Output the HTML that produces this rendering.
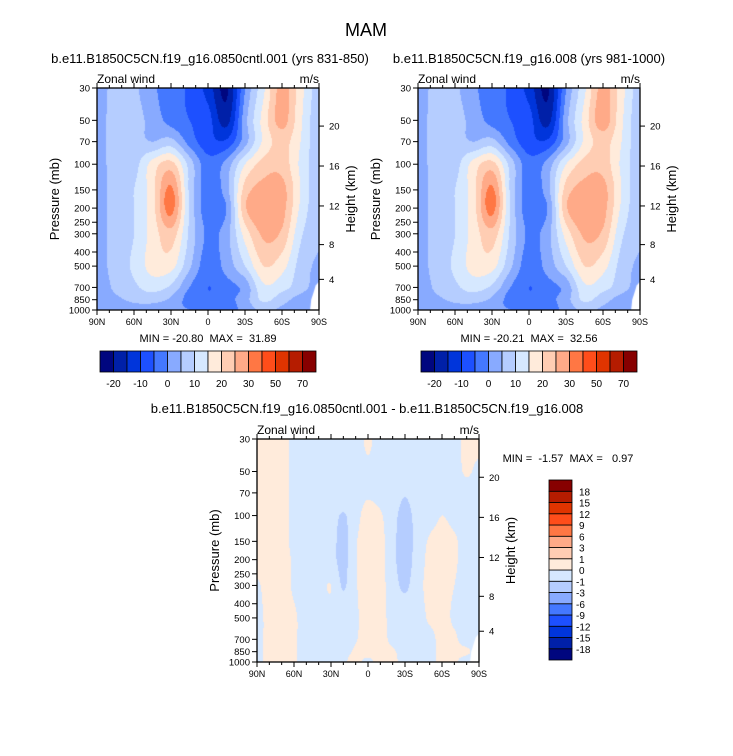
<!DOCTYPE html>
<html><head><meta charset="utf-8">
<style>
html,body{margin:0;padding:0;background:#fff;}
#wrap{position:relative;width:733px;height:756px;overflow:hidden;font-family:"Liberation Sans",sans-serif;}
canvas{position:absolute;}
svg{position:absolute;left:0;top:0;}
svg text{white-space:pre;}
</style></head>
<body>
<div id="wrap">
<canvas id="c1"></canvas>
<canvas id="c2"></canvas>
<canvas id="c3"></canvas>
<svg id="ov" width="733" height="756"></svg>
</div>
<script>
// ---- data ----
const lats13 = ["90N","75N","60N","45N","30N","15N","0","15S","30S","45S","60S","75S","90S"];
const levels = [30,50,70,100,150,200,300,500,700,850,1000];
const fieldA = [
 [2,7,6,1,-3,-6,-12,-21,0,14,27,17,7],
 [3,7,7,3,-2,-5,-8,-17,3,17,27,16,6],
 [3,7,7,5,7,-2,-8,-9,3,16,22,15,6],
 [3,7,8,17,22,8,-3,2,15,22,23,14,6],
 [3,7,10,18,31,9,-3,3,22,27,27,15,6],
 [3,7,10,18,32,9,-3,0,24,29,27,14,6],
 [3,7,10,17,23,9,-1,3,17,26,24,11,6],
 [3,7,11,17,17,6,-3,2,10,20,17,8,4],
 [2,6,9,12,9,0,-5,-2,2,14,12,7,3],
 [2,4,6,7,4,-2,-4,-2,3,11,7,3,2],
 [1,2,3,2,1,0,-2,-3,2,6,4,2,1]
];
const fieldB = [
 [2,7,6,1,-3,-6,-12,-21,0,14,27,17,7],
 [3,7,7,3,-2,-5,-8,-17,3,17,28,16,6],
 [3,7,7,5,7,-2,-8,-9,3,16,22,15,6],
 [3,7,8,17,22,8,-3,2,15,22,23,14,6],
 [3,7,10,18,31,9,-3,3,22,27,27,15,6],
 [3,7,10,18,32,9,-3,0,24,29,27,14,6],
 [3,7,10,17,23,9,-1,3,17,26,24,11,6],
 [3,7,11,17,17,6,-3,2,10,20,17,8,4],
 [2,6,9,12,9,0,-5,-2,2,14,12,7,3],
 [2,4,6,7,4,-2,-4,-2,3,11,7,3,2],
 [1,2,3,2,1,0,-2,-3,2,6,4,2,1]
];
const lats19 = ["90N","80N","70N","60N","50N","40N","30N","20N","10N","0","10S","20S","30S","40S","50S","60S","70S","80S","90S"];
const fieldD = [
 [.3,.3,.3,-.2,-.3,-.3,-.3,-.3,-.3,.1,-.3,-.3,-.3,-.3,-.3,-.3,-.3,.3,.3],
 [.3,.3,.3,-.2,-.3,-.3,-.3,-.3,-.3,-.1,-.3,-.3,-.3,-.3,-.3,-.3,-.3,.1,-.2],
 [.3,.3,.3,-.2,-.3,-.3,-.3,-.3,-.3,-.1,-.3,-.3,-.9,-.3,-.3,-.3,-.3,-.3,-.3],
 [.3,.3,.3,-.2,-.3,-.3,-.5,-1.1,-.3,.3,.1,-.6,-1.4,-.6,-.3,0,-.2,-.3,-.3],
 [.3,.3,.3,-.2,-.3,-.3,-.6,-1.3,-.1,.4,.3,-.7,-1.5,-.6,.1,.2,.1,-.3,-.3],
 [.3,.3,.3,-.1,-.3,-.3,-.6,-1.3,-.1,.4,.3,-.7,-1.5,-.5,.2,.2,.1,-.3,-.3],
 [-.1,.3,.3,-.1,-.3,-.3,0,-1.1,-.1,.4,.3,-.5,-1.2,-.3,.2,.2,0,-.3,-.3],
 [-.2,.2,.3,.1,-.3,-.3,-.3,-.3,-.1,.3,.3,-.3,-.3,-.3,.1,.2,-.1,-.3,-.3],
 [-.2,.2,.3,.1,-.3,-.3,-.3,-.3,-.05,.3,.3,-.2,-.3,-.3,-.2,.2,.1,-.3,-.3],
 [-.2,.2,.3,.1,-.3,-.3,-.3,-.2,.1,.3,.3,.1,-.3,-.3,-.2,.2,.1,.1,-.3],
 [-.2,.2,.3,.1,-.3,-.3,-.3,-.1,.2,-.2,.3,.2,-.3,-.3,-.2,.2,.1,-.3,-.3]
];
const boundsAB = [-20,-15,-10,-5,0,5,10,15,20,25,30,40,50,60,70];
const cbLabelsAB = ["-20","-10","0","10","20","30","50","70"];
const boundsD = [-18,-15,-12,-9,-6,-3,-1,0,1,3,6,9,12,15,18];
const pLabels = [30,50,70,100,150,200,250,300,400,500,700,850,1000];
const heightLabels = [4,8,12,16,20];
const xLabels = ["90N","60N","30N","0","30S","60S","90S"];
const colors = ["#00067f","#0020a8","#0035db","#1d50ff","#4478ff","#88aaff","#b5cdff","#d6e8ff",
 "#ffebdb","#ffcdb3","#ffaa88","#ff7744","#ff4d1a","#e03400","#b51c00","#870000"];

const NS="http://www.w3.org/2000/svg";
const ov=document.getElementById('ov');
function el(tag,attrs,parent){const e=document.createElementNS(NS,tag);for(const k in attrs)e.setAttribute(k,attrs[k]);(parent||ov).appendChild(e);return e;}
function txt(s,x,y,size,anchor,parent,rot){const t=el('text',{x:x,y:y,'font-size':size,'text-anchor':anchor||'middle','font-family':'Liberation Sans, sans-serif',fill:'#000'},parent);if(rot)t.setAttribute('transform','rotate(-90 '+x+' '+y+')');t.textContent=s;return t;}

const LN=Math.log(1000/30);
function yOfP(p,y0,h){return y0+h*Math.log(p/30)/LN;}
function pOfZ(zkm){const z=zkm*1000;if(z<=11000)return 1013.25*Math.pow(1-2.25577e-5*z,5.25588);return 226.32*Math.exp(-(z-11000)/6341.6);}
function colorIdx(v,b){let i=0;while(i<b.length&&v>b[i])i++;return i;}
function cr(p0,p1,p2,p3,t){return 0.5*((2*p1)+(-p0+p2)*t+(2*p0-5*p1+4*p2-p3)*t*t+(-p0+3*p1-3*p2+p3)*t*t*t);}

function drawField(cid,field,bounds,x0,y0,w,h){
  const c=document.getElementById(cid);c.width=w;c.height=h;c.style.left=x0+'px';c.style.top=y0+'px';
  const ctx=c.getContext('2d');const img=ctx.createImageData(w,h);
  const nc=field[0].length,nr=levels.length;const lp=levels.map(p=>Math.log(p));
  const rgb=colors.map(s=>[parseInt(s.substr(1,2),16),parseInt(s.substr(3,2),16),parseInt(s.substr(5,2),16)]);
  const F=(r,k)=>field[Math.max(0,Math.min(nr-1,r))][Math.max(0,Math.min(nc-1,k))];
  for(let j=0;j<h;j++){
    const lnp=Math.log(30)+((j+0.5)/h)*LN;
    let r=0;while(r<nr-2&&lnp>lp[r+1])r++;
    const fy=Math.min(1,Math.max(0,(lnp-lp[r])/(lp[r+1]-lp[r])));
    for(let i=0;i<w;i++){
      const fx=((i+0.5)/w)*(nc-1);let cI=Math.min(nc-2,Math.floor(fx));const tx=fx-cI;
      const rows=[];
      for(let q=-1;q<=2;q++){const rr=r+q;rows.push(cr(F(rr,cI-1),F(rr,cI),F(rr,cI+1),F(rr,cI+2),tx));}
      const v=cr(rows[0],rows[1],rows[2],rows[3],fy);
      const col=rgb[colorIdx(v,bounds)];const k=(j*w+i)*4;
      img.data[k]=col[0];img.data[k+1]=col[1];img.data[k+2]=col[2];img.data[k+3]=255;
    }
  }
  ctx.putImageData(img,0,0);
  ctx.fillStyle='#fff';ctx.beginPath();
  ctx.moveTo(w,yOfP(640,0,h));ctx.lineTo(w*0.985,yOfP(680,0,h));ctx.lineTo(w*0.975,yOfP(760,0,h));
  ctx.lineTo(w*0.965,yOfP(850,0,h));ctx.lineTo(w*0.96,h);ctx.lineTo(w,h);ctx.closePath();ctx.fill();
}

function drawAxes(name,x0,y0,w,h){
  const g=el('g',{});
  
  
  el('rect',{x:x0,y:y0,width:w,height:h,fill:'none',stroke:'#000','stroke-width':1.3},g);
  for(let d=0;d<=180;d+=10){
    const x=x0+w*d/180;const L=(d%30===0)?5:3;
    el('line',{x1:x,y1:y0+h,x2:x,y2:y0+h+L,stroke:'#000','stroke-width':1},g);
    el('line',{x1:x,y1:y0,x2:x,y2:y0-L,stroke:'#000','stroke-width':1},g);
  }
  xLabels.forEach((s,i)=>{const t=txt(s,x0+w*i/6,y0+h+15,9,'middle',g);
    
    });
  pLabels.forEach(p=>{const y=yOfP(p,y0,h);
    el('line',{x1:x0-5,y1:y,x2:x0,y2:y,stroke:'#000','stroke-width':1},g);
    const t=txt(String(p),x0-7,y+3.5,9.5,'end',g);
    
    });
  heightLabels.forEach(z=>{const y=yOfP(pOfZ(z),y0,h);
    el('line',{x1:x0+w,y1:y,x2:x0+w+5,y2:y,stroke:'#000','stroke-width':1},g);
    const t=txt(String(z),x0+w+10,y+3.5,9.5,'start',g);
    
    });
  const yl=txt('Pressure (mb)',x0-38,y0+h/2,13,'middle',g,true);
  
  
  const hl=txt('Height (km)',x0+w+36,y0+h/2,13,'middle',g,true);
  
  
  const zl=txt('Zonal wind',x0,y0-5,12,'start',g);
  
  
  const ul=txt('m/s',x0+w,y0-5,12,'end',g);
  
  
}

function hBar(name,x0,y0,w,h){
  const g=el('g',{});
  
  
  const bw=w/colors.length;
  colors.forEach((c,i)=>{el('rect',{x:x0+i*bw,y:y0,width:bw,height:h,fill:c,stroke:'#000','stroke-width':0.8},g);});
  cbLabelsAB.forEach((s,k)=>{const t=txt(s,x0+bw*(1+2*k),y0+h+15,10,'middle',g);
    
    });
}
function vBar(name,x0,y0,w,h){
  const g=el('g',{});
  
  
  const bh=h/colors.length;
  colors.forEach((c,i)=>{el('rect',{x:x0,y:y0+h-(i+1)*bh,width:w,height:bh,fill:c,stroke:'#000','stroke-width':0.8},g);});
  boundsD.forEach((b,i)=>{const t=txt(String(b),x0+w+(b<0?4:7),y0+h-(i+1)*bh+4,10,'start',g);
    
    });
}

drawField('c1',fieldA,boundsAB,97,88,222,222);
drawField('c2',fieldB,boundsAB,418,88,222,222);
drawField('c3',fieldD,boundsD,257,439,222,223);
drawAxes('left-panel',97,88,222,222);
drawAxes('right-panel',418,88,222,222);
drawAxes('diff-panel',257,439,222,223);
hBar('left-colorbar',100,351,216,21);
hBar('right-colorbar',421,351,216,21);
vBar('diff-colorbar',549,480,23,180);

let t;
t=txt('MAM',366,36,18);


t=txt('b.e11.B1850C5CN.f19_g16.0850cntl.001 (yrs 831-850)',210,63,13);


t=txt('b.e11.B1850C5CN.f19_g16.008 (yrs 981-1000)',529,63,13);


t=txt('b.e11.B1850C5CN.f19_g16.0850cntl.001 - b.e11.B1850C5CN.f19_g16.008',367,413,13);


t=txt('MIN = -20.80  MAX =  31.89',208,342,11);


t=txt('MIN = -20.21  MAX =  32.56',529,342,11);


t=txt('MIN =  -1.57  MAX =   0.97',568,462,11);


</script>
</body></html>
